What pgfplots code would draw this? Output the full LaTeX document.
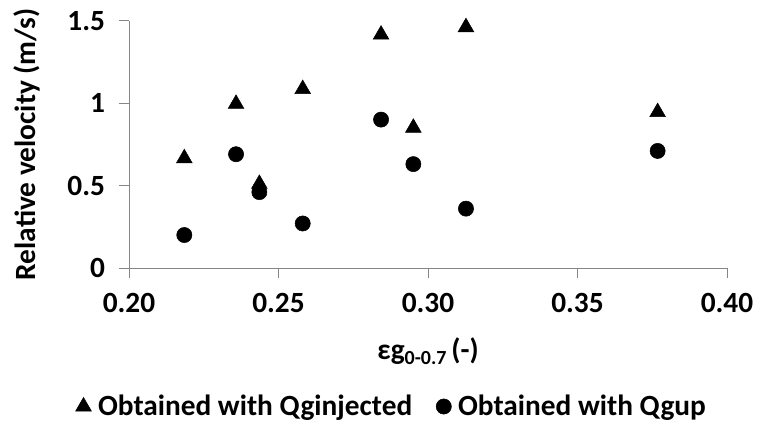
\documentclass[border=0pt]{standalone}
\usepackage{pgfplots}
\pgfplotsset{compat=1.18}
\usepackage{fontspec}
\setmainfont{Carlito}
\definecolor{axgray}{RGB}{134,134,134}
\begin{document}
\begin{tikzpicture}[font=\bfseries\fontsize{22}{26}\selectfont]
\path[use as bounding box] (-96.75pt,-117.75pt) rectangle (471pt,201pt);
\begin{axis}[
  at={(0,0)}, anchor=south west,
  scale only axis, width=448.5pt, height=185.5pt,
  xmin=0.2, xmax=0.4, ymin=0, ymax=1.5,
  axis lines=left, axis line style={-, color=axgray},
  xtick={0.2,0.25,0.3,0.35,0.4},
  ytick={0,0.5,1,1.5},
  yticklabels={0,0.5,1,1.5},
  tick align=outside, major tick length=7.5pt,
  tick style={color=axgray, thin},
  /pgf/number format/assume math mode=true,
  xticklabel style={/pgf/number format/fixed, /pgf/number format/fixed zerofill, /pgf/number format/precision=2, /pgf/number format/assume math mode=true, yshift=-8pt},
  yticklabel style={xshift=-7pt},
  xlabel={\strut εg\raisebox{-0.35ex}{\fontsize{15}{17}\selectfont 0-0.7}\,(-)},
  xlabel style={at={(axis description cs:0.5,-0.34)}, anchor=center},
  ylabel={Relative velocity (m/s)},
  ylabel style={at={(axis description cs:-0.17,0.5)}, anchor=center, rotate=0},
  legend style={at={(axis description cs:0.44,-0.56)}, anchor=center, draw=none,
    legend columns=2,
    /tikz/every odd column/.append style={column sep=3pt},
    /tikz/every even column/.append style={column sep=16pt},
    font=\bfseries\fontsize{22}{26}\selectfont},
  legend cell align=left,
  clip=false,
]
\addplot[only marks, mark=triangle*, mark size=6.8pt, color=black] coordinates {
(0.2185,0.665) (0.2358,0.995) (0.2436,0.51) (0.2581,1.085) (0.2843,1.415)
(0.2951,0.85) (0.3127,1.46) (0.3768,0.945)
};
\addlegendentry{Obtained with Qginjected}
\addplot[only marks, mark=*, mark size=5.7pt, color=black] coordinates {
(0.2185,0.20) (0.2358,0.69) (0.2436,0.46) (0.2581,0.27) (0.2843,0.90)
(0.2951,0.63) (0.3127,0.36) (0.3768,0.71)
};
\addlegendentry{Obtained with Qgup}
\end{axis}
\end{tikzpicture}
\end{document}
